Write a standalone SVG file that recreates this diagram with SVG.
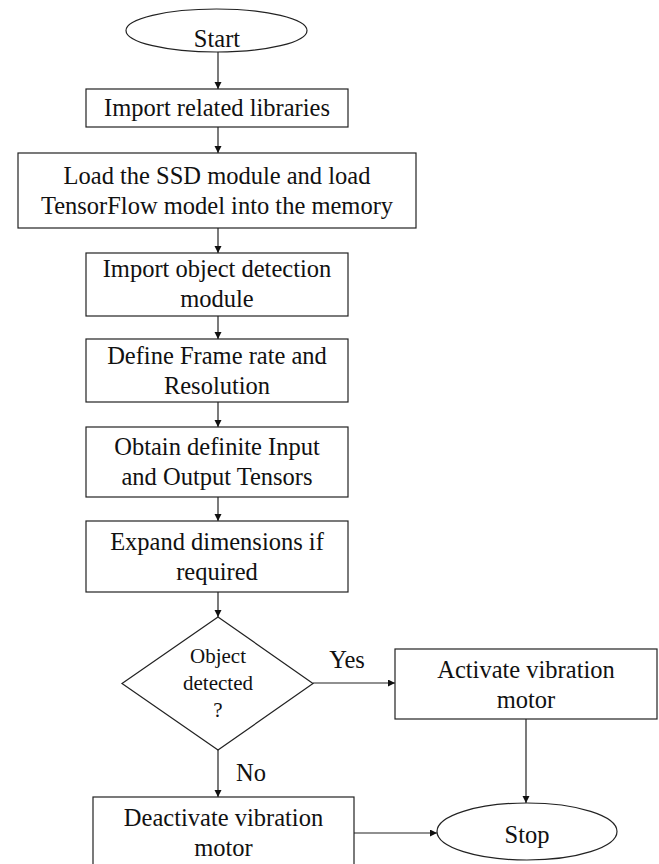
<svg xmlns="http://www.w3.org/2000/svg" width="659" height="864" viewBox="0 0 659 864">
<defs>
<marker id="arr" markerUnits="userSpaceOnUse" markerWidth="8" markerHeight="8" refX="7" refY="3.5" orient="auto">
<path d="M0,0 L7,3.5 L0,7 z" fill="#111"/>
</marker>
<style>
.s{fill:#fff;stroke:#222;stroke-width:1.2}
.t{font-family:"Liberation Serif","Times New Roman",serif;font-size:24.5px;fill:#111;text-anchor:middle}
.d{font-family:"Liberation Serif","Times New Roman",serif;font-size:21px;fill:#111;text-anchor:middle}
.c{fill:none;stroke:#222;stroke-width:1.2;marker-end:url(#arr)}
</style>
</defs>
<rect width="659" height="864" fill="#fff"/>
<g id="connectors">
<line class="c" x1="218" y1="52" x2="218" y2="89"/>
<line class="c" x1="218" y1="127" x2="218" y2="153"/>
<line class="c" x1="218" y1="228" x2="218" y2="253"/>
<line class="c" x1="218" y1="316" x2="218" y2="339"/>
<line class="c" x1="218" y1="402" x2="218" y2="427"/>
<line class="c" x1="218" y1="497" x2="218" y2="521"/>
<line class="c" x1="218" y1="592" x2="218" y2="617"/>
<line class="c" x1="313" y1="683" x2="395" y2="683"/>
<line class="c" x1="526" y1="719" x2="526" y2="803"/>
<line class="c" x1="218" y1="750" x2="218" y2="797"/>
<line class="c" x1="354" y1="833" x2="437" y2="833"/>
<text class="t" x="347" y="668">Yes</text>
<text class="t" x="251" y="781">No</text>
</g>
<g id="start">
<ellipse class="s" cx="216.5" cy="30.5" rx="90.5" ry="21.5"/>
<text class="t" x="217" y="47">Start</text>
</g>
<g id="import-libs">
<rect class="s" x="86" y="89" width="262" height="38"/>
<text class="t" x="217" y="116">Import related libraries</text>
</g>
<g id="load-ssd">
<rect class="s" x="18" y="153" width="398" height="75"/>
<text class="t" x="217" y="184">Load the SSD module and load</text>
<text class="t" x="217" y="214">TensorFlow model into the memory</text>
</g>
<g id="import-od">
<rect class="s" x="86" y="253" width="262" height="63"/>
<text class="t" x="217" y="277">Import object detection</text>
<text class="t" x="217" y="307">module</text>
</g>
<g id="define-frame">
<rect class="s" x="86" y="339" width="262" height="63"/>
<text class="t" x="217" y="364">Define Frame rate and</text>
<text class="t" x="217" y="394">Resolution</text>
</g>
<g id="obtain-tensors">
<rect class="s" x="86" y="427" width="262" height="70"/>
<text class="t" x="217" y="455">Obtain definite Input</text>
<text class="t" x="217" y="485">and Output Tensors</text>
</g>
<g id="expand-dims">
<rect class="s" x="86" y="521" width="262" height="71"/>
<text class="t" x="217" y="550">Expand dimensions if</text>
<text class="t" x="217" y="580">required</text>
</g>
<g id="decision">
<polygon class="s" points="218,617 313,683.5 218,750 122,683.5"/>
<text class="d" x="218" y="663">Object</text>
<text class="d" x="218" y="690">detected</text>
<text class="d" x="218" y="717">?</text>
</g>
<g id="activate">
<rect class="s" x="395" y="649" width="262" height="70"/>
<text class="t" x="526" y="678">Activate vibration</text>
<text class="t" x="526" y="708">motor</text>
</g>
<g id="deactivate">
<rect class="s" x="93" y="797" width="261" height="80"/>
<text class="t" x="223.5" y="826">Deactivate vibration</text>
<text class="t" x="223.5" y="856">motor</text>
</g>
<g id="stop">
<ellipse class="s" cx="527" cy="831.5" rx="90" ry="28.5"/>
<text class="t" x="527" y="843">Stop</text>
</g>
</svg>
